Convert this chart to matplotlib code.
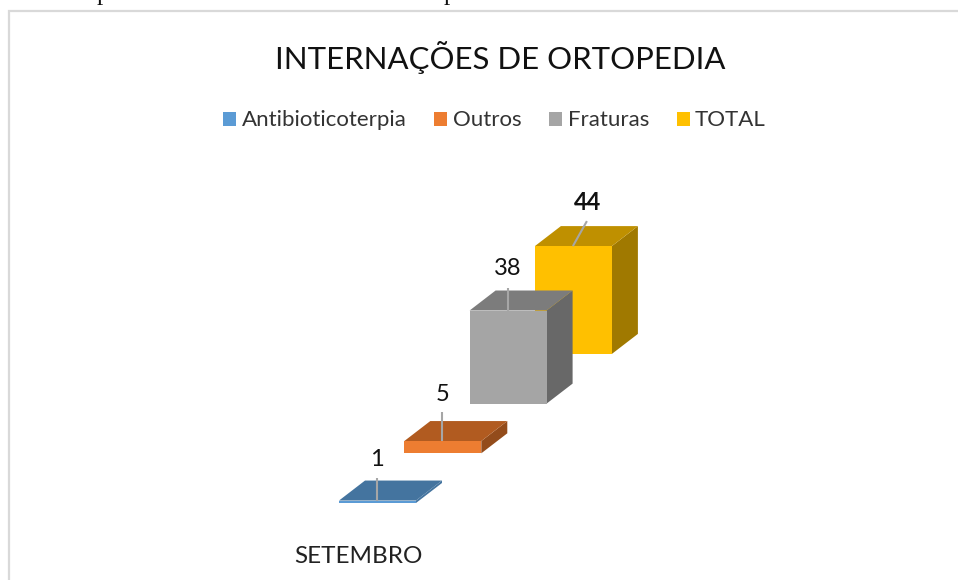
import matplotlib
matplotlib.use("Agg")
import matplotlib.pyplot as plt
from matplotlib.patches import Polygon, Patch, Rectangle

plt.rcParams['font.family'] = ['Lato', 'DejaVu Sans']

# data
title = "INTERNAÇÕES DE ORTOPEDIA"
category = "SETEMBRO"
series = ["Antibioticoterpia", "Outros", "Fraturas", "TOTAL"]
values = [1, 5, 38, 44]
bold_label = [False, False, False, True]

# styles
front = ["#5B9BD5", "#ED7D31", "#A5A5A5", "#FFC000"]
top = ["#44749F", "#B15B20", "#7C7C7C", "#BF9000"]
side = ["#44749F", "#934C1B", "#686868", "#A07900"]
LEADER = "#A6A6A6"

W, H = 958, 580
PX_X = 65.3      # pixels per series step
PX_Y = 2.45      # pixels per value unit
ORIGIN = (339, 503)
bar_w = 77 / PX_X
step_y = 49.7 / PX_Y
depth_x = 26 / PX_X
depth_y = 20 / PX_Y

fig = plt.figure(figsize=(W / 100, H / 100), dpi=100, facecolor="white")
ax = fig.add_axes([0, 0, 1, 1])
ax.set_xlim(-ORIGIN[0] / PX_X, (W - ORIGIN[0]) / PX_X)
ax.set_ylim((ORIGIN[1] - H) / PX_Y, ORIGIN[1] / PX_Y)
ax.axis("off")

def px(x, y):
    return (x - ORIGIN[0]) / PX_X, (ORIGIN[1] - y) / PX_Y

# chart frame
ax.add_patch(Rectangle(px(9, 600), (1000) / PX_X, 589 / PX_Y, fill=False,
                       edgecolor="#D9D9D9", linewidth=1.6, zorder=0))

leader_len = [23, 29, 23, 25]
leader_dx = [0, 0, 0, 14]
label_gap = [12, 11, 12, 11]
leader_at = [38, 38, 38, 38]

for i, v in enumerate(values):
    x0 = i
    y0 = i * step_y
    x1 = x0 + bar_w
    yt = y0 + v
    ax.add_patch(Polygon([(x1, y0), (x1 + depth_x, y0 + depth_y),
                          (x1 + depth_x, yt + depth_y), (x1, yt)],
                         facecolor=side[i], edgecolor="none", zorder=2 - i))
    ax.add_patch(Polygon([(x0, yt), (x1, yt), (x1 + depth_x, yt + depth_y),
                          (x0 + depth_x, yt + depth_y)],
                         facecolor=top[i], edgecolor="none", zorder=2 - i))
    ax.add_patch(Polygon([(x0, y0), (x1, y0), (x1, yt), (x0, yt)],
                         facecolor=front[i], edgecolor="none", zorder=2 - i))
    lx = x0 + leader_at[i] / PX_X
    ax.plot([lx, lx + leader_dx[i] / PX_X], [yt, yt + leader_len[i] / PX_Y],
            color=LEADER, lw=1.5, zorder=5, solid_capstyle="butt")
    ax.text(lx + leader_dx[i] / PX_X + (1 if i == 3 else 0) / PX_X,
            yt + (leader_len[i] + label_gap[i]) / PX_Y, str(v),
            ha="center", va="baseline",
            fontsize=17, fontweight="bold" if bold_label[i] else "normal",
            color="#111111", zorder=6)

fig.text(500 / W, 1 - 68.5 / H, title, ha="center", va="baseline", fontsize=22.4, color="#111111")
fig.text(358.5 / W, 1 - 563 / H, category, ha="center", va="baseline", fontsize=17.5, color="#222222")

handles = [Patch(facecolor=c, edgecolor="none") for c in front]
fig.legend(handles, series, ncol=4, loc="center", bbox_to_anchor=(494.5 / W, 1 - 120.5 / H),
           frameon=False, fontsize=16, labelcolor="#333333", handlelength=0.58,
           handleheight=0.6, handletextpad=0.25, columnspacing=1.25,
           borderpad=0, borderaxespad=0)

# clipped line of page text above the chart
for xp in (103, 450):
    fig.text(xp / W, 1.0, "p", ha="center", va="baseline",
             family="Liberation Serif", fontsize=18, color="#111111")

fig.savefig("out.png", dpi=100)
